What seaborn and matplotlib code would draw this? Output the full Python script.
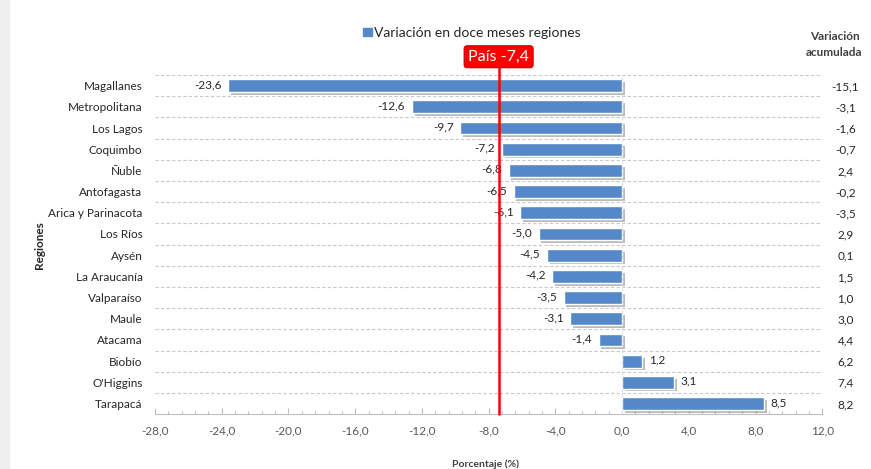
import numpy as np
import pandas as pd
import seaborn as sns
import matplotlib.pyplot as plt
import matplotlib.patheffects as pe
from matplotlib.patches import Patch, Rectangle
from matplotlib.ticker import MultipleLocator

regiones = ["Magallanes", "Metropolitana", "Los Lagos", "Coquimbo", "Ñuble", "Antofagasta",
            "Arica y Parinacota", "Los Ríos", "Aysén", "La Araucanía", "Valparaíso", "Maule",
            "Atacama", "Biobío", "O'Higgins", "Tarapacá"]
variacion_12m = [-23.6, -12.6, -9.7, -7.2, -6.8, -6.5, -6.1, -5.0, -4.5, -4.2, -3.5, -3.1,
                 -1.4, 1.2, 3.1, 8.5]
variacion_acum = [-15.1, -3.1, -1.6, -0.7, 2.4, -0.2, -3.5, 2.9, 0.1, 1.5, 1.0, 3.0,
                  4.4, 6.2, 7.4, 8.2]
pais = -7.4
xticks = np.arange(-28, 13, 4)

df = pd.DataFrame({"Región": regiones, "Variación": variacion_12m})

def coma(v, dec=1):
    return f"{v:.{dec}f}".replace(".", ",")

sns.set_style("white")
plt.rcParams['font.family'] = ['Lato', 'DejaVu Sans']

fig = plt.figure(figsize=(8.71, 4.69), dpi=100)
ax = fig.add_axes([0.178, 0.117, 0.766, 0.723])
fig.patches.append(Rectangle((0, 0), 9 / 871, 1, transform=fig.transFigure,
                             color="#f0f0f0", zorder=0))

azul = "#5588c8"
sns.barplot(data=df, y="Región", x="Variación", orient="h", color=azul,
            width=0.6, saturation=1, ax=ax, zorder=3)
for p in ax.patches:
    p.set_path_effects([pe.SimplePatchShadow(offset=(2, -2), shadow_rgbFace="#777777",
                                             alpha=0.5), pe.Normal()])

ax.set_xlim(-28, 12)
ax.set_ylim(15.5, -0.5)
ax.set_xticks(xticks)
ax.set_xticklabels([coma(t) for t in xticks], fontsize=8.5, color="#595959")
ax.xaxis.set_minor_locator(MultipleLocator(0.8))
ax.tick_params(axis="x", which="both", direction="in", color="#bfbfbf", length=4,
               width=0.8, pad=8, bottom=True)
ax.tick_params(axis="x", which="minor", length=2.5)
ax.tick_params(axis="y", length=0, labelsize=8.5, labelcolor="#262626", pad=9)

for s in ["top", "right", "left"]:
    ax.spines[s].set_visible(False)
ax.spines["bottom"].set_color("#bfbfbf")

# lineas punteadas entre filas
for i in range(len(regiones)):
    ax.axhline(i - 0.5, color="#c8c8c8", lw=0.8, ls=(0, (3, 2)), zorder=1)
ax.axvline(0, color="#dddddd", lw=0.8, ls=(0, (3, 2)), zorder=4)

# etiquetas de barras
for i, v in enumerate(variacion_12m):
    if v < 0:
        ax.text(v - 0.4, i - 0.05, coma(v), ha="right", va="center", fontsize=8.5,
                color="#262626", zorder=5)
    else:
        ax.text(v + 0.4, i - 0.05, coma(v), ha="left", va="center", fontsize=8.5,
                color="#262626", zorder=5)

# variacion acumulada a la derecha
for i, v in enumerate(variacion_acum):
    ax.text(1.035, i + 0.05, coma(v), transform=ax.get_yaxis_transform(), ha="center",
            va="center", fontsize=8.5, color="#262626")
fig.text(0.958, 0.905, "Variación\nacumulada", ha="center", va="center", fontsize=8.5,
         fontweight="bold", color="#404040", linespacing=1.5)

# linea pais
ax.axvline(pais, ymin=0, ymax=1.024, color="#ff0000", lw=1.8, zorder=6, clip_on=False)
ax.annotate(f"País {coma(pais)}", xy=(pais, 0.879), xycoords=("data", "figure fraction"),
            ha="center", va="center", fontsize=11.5, color="white", zorder=7,
            bbox=dict(boxstyle="round,pad=0.25,rounding_size=0.2", fc="#ff0000",
                      ec="#c00000", lw=0.8))

ax.set_ylabel("Regiones", fontsize=8.5, fontweight="bold", color="#262626")
ax.yaxis.set_label_coords(-0.165, 0.5)
ax.set_xlabel("Porcentaje (%)", fontsize=7.5, fontweight="bold", color="#404040")
ax.xaxis.set_label_coords(0.495, -0.135)

fig.legend(handles=[Patch(color=azul, label="Variación en doce meses regiones")],
           loc="center", bbox_to_anchor=(0.542, 0.93), frameon=False, fontsize=10,
           handlelength=0.6, handleheight=0.6, handletextpad=0.2, labelcolor="#262626")

fig.savefig("out.png", dpi=100)
